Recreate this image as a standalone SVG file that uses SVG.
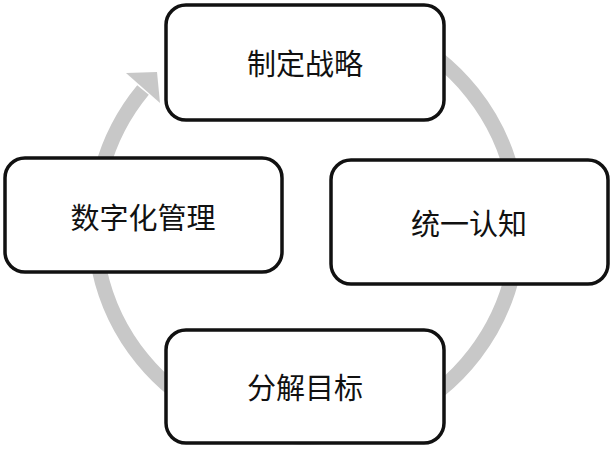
<svg xmlns="http://www.w3.org/2000/svg" width="613" height="449" viewBox="0 0 613 449">
<style>
.b{fill:#fff;stroke:#111;stroke-width:3.5}
.t{font-family:"Noto Sans CJK SC",sans-serif;font-size:29px;fill:#111;text-anchor:middle;dominant-baseline:central}
</style>
<rect width="613" height="449" fill="#fff"/>
<g id="connectors">
<path d="M306 13 A212 212 0 1 1 143 90" fill="none" stroke="#c8c8c8" stroke-width="15"/>
<polygon points="126,73 157,72 160,103" fill="#c8c8c8"/>
</g>
<g id="n1"><rect class="b" x="166" y="5" width="278" height="115" rx="20"/><text class="t" x="305" y="62">制定战略</text></g>
<g id="n2"><rect class="b" x="5" y="158" width="277" height="114" rx="20"/><text class="t" x="143" y="216">数字化管理</text></g>
<g id="n3"><rect class="b" x="331" y="160" width="277" height="124" rx="20"/><text class="t" x="469" y="222">统一认知</text></g>
<g id="n4"><rect class="b" x="166" y="330" width="278" height="113" rx="20"/><text class="t" x="305" y="386">分解目标</text></g>
</svg>
